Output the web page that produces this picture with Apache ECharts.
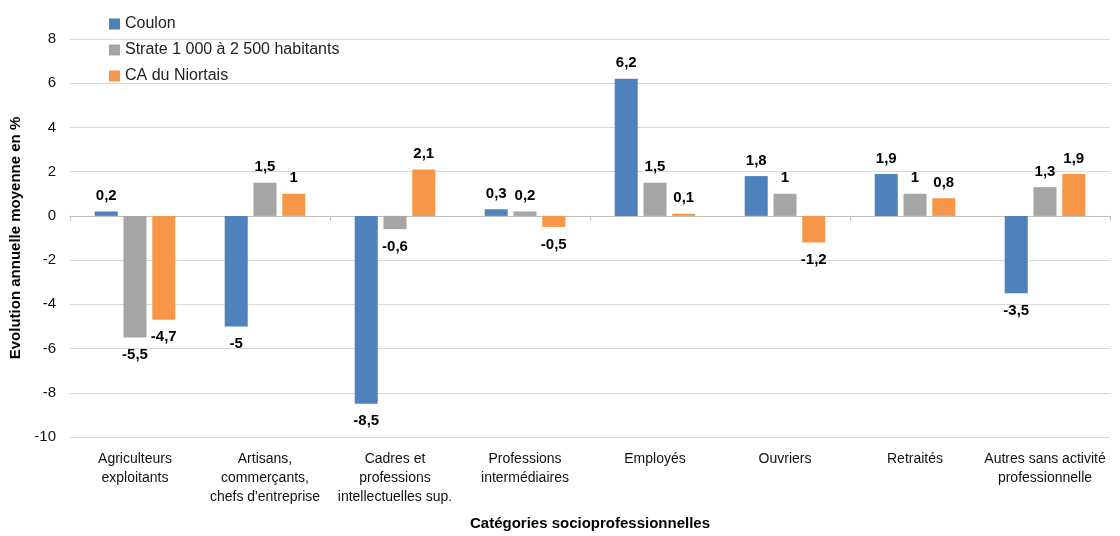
<!DOCTYPE html>
<html><head><meta charset="utf-8">
<script src="https://cdn.jsdelivr.net/npm/echarts@6/dist/echarts.min.js"></script>
<style>html,body{margin:0;padding:0;background:#fff}#c{width:1120px;height:536px}</style>
</head><body><div id="c"></div>
<script>
var categories = ["Agriculteurs\nexploitants","Artisans,\ncommerçants,\nchefs d'entreprise","Cadres et\nprofessions\nintellectuelles sup.","Professions\nintermédiaires","Employés","Ouvriers","Retraités","Autres sans activité\nprofessionnelle"];
var seriesNames = ["Coulon","Strate 1 000 à 2 500 habitants","CA du Niortais"];
var coulon = [0.2,-5,-8.5,0.3,6.2,1.8,1.9,-3.5];
var strate = [-5.5,1.5,-0.6,0.2,1.5,1,1,1.3];
var caNiortais = [-4.7,1,2.1,-0.5,0.1,-1.2,0.8,1.9];
var colors = ["#4f81bd","#a5a5a5","#f79646"];
var FONT = "Liberation Sans";

function mk(name, data, color){
  return {
    name: name, type: 'bar', xAxisIndex: 0, barGap: '25%', barCategoryGap: '38%',
    itemStyle: {color: color},
    data: data.map(function(v){
      return {value: v, label: {position: v < 0 ? 'bottom' : 'top', distance: v < 0 ? 10 : 8}};
    }),
    label: {show: true, fontFamily: FONT, fontSize: 15, fontWeight: 'bold', color: '#000',
      formatter: function(p){ return String(p.value).replace('.', ','); }}
  };
}
var chart = echarts.init(document.getElementById('c'));
chart.setOption({
  animation: false,
  textStyle: {fontFamily: FONT},
  grid: {left: 70, right: 10, top: 39, bottom: 98, containLabel: false},
  legend: {orient: 'vertical', left: 104, top: 11, itemWidth: 11, itemHeight: 11, itemGap: 10,
    icon: 'rect', data: seriesNames,
    textStyle: {fontFamily: FONT, fontSize: 16, color: '#222'}},
  xAxis: [{
    type: 'category', data: categories, position: 'bottom',
    axisLine: {show: false, onZero: false}, axisTick: {show: false},
    axisLabel: {interval: 0, fontFamily: FONT, fontSize: 14, color: '#111', lineHeight: 19, margin: 13},
    name: 'Catégories socioprofessionnelles', nameLocation: 'middle', nameGap: 79,
    nameTextStyle: {fontFamily: FONT, fontSize: 15, fontWeight: 'bold', color: '#000'}
  },{
    type: 'category', data: categories, position: 'bottom',
    axisLine: {show: true, onZero: true, lineStyle: {color: '#bfbfbf', width: 1}},
    axisTick: {show: true, length: 5, lineStyle: {color: '#bfbfbf'}},
    axisLabel: {show: false}
  }],
  yAxis: {
    type: 'value', min: -10, max: 8, interval: 2,
    axisLine: {show: false}, axisTick: {show: false},
    splitLine: {lineStyle: {color: '#d9d9d9', width: 1}},
    axisLabel: {fontFamily: FONT, fontSize: 15, color: '#111', margin: 14},
    name: 'Evolution annuelle moyenne en %', nameLocation: 'middle', nameGap: 45, nameRotate: 90,
    nameTextStyle: {fontFamily: FONT, fontSize: 15, fontWeight: 'bold', color: '#000'}
  },
  series: [mk(seriesNames[0], coulon, colors[0]), mk(seriesNames[1], strate, colors[1]), mk(seriesNames[2], caNiortais, colors[2])]
});
</script></body></html>
